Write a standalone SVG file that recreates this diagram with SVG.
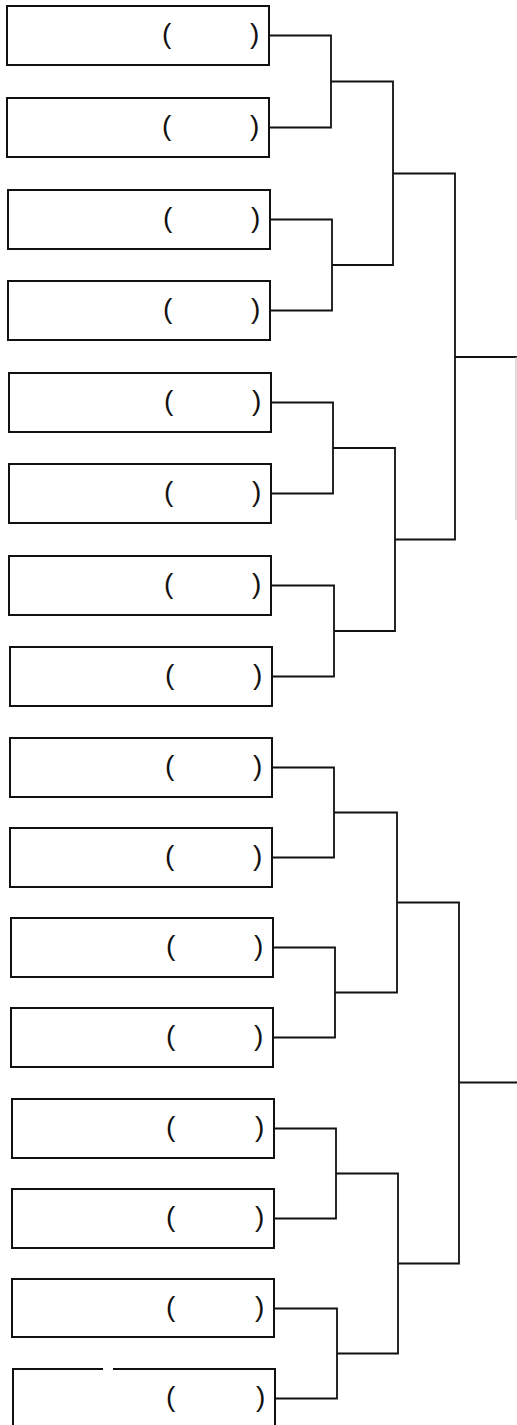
<svg xmlns="http://www.w3.org/2000/svg" width="517" height="1425" viewBox="0 0 517 1425">
<style>
.box{fill:#fff;stroke:#111;stroke-width:2}
.p{font-family:"Liberation Sans",Arial,sans-serif;font-size:28px;fill:#111}
.c{fill:none;stroke:#111;stroke-width:1.8}
</style>
<rect width="517" height="1425" fill="#fff"/>
<g id="connectors">
<path class="c" d="M269 35.5H331V127.5H269"/>
<path class="c" d="M270 219.5H332V310.5H270"/>
<path class="c" d="M271 402.5H333V493.5H271"/>
<path class="c" d="M271 585.5H334V676.5H272"/>
<path class="c" d="M272 767.5H334V857.5H272"/>
<path class="c" d="M273 947.5H335V1037.5H273"/>
<path class="c" d="M274 1128.5H336V1218.5H274"/>
<path class="c" d="M274 1308.5H337V1398.5H275"/>
<path class="c" d="M331 81.5H393V265H332"/>
<path class="c" d="M333 448H395V631H334"/>
<path class="c" d="M334 812.5H397V992.5H335"/>
<path class="c" d="M336 1173.5H398V1353.5H337"/>
<path class="c" d="M393 173.5H455V539.5H395"/>
<path class="c" d="M397 902.5H459V1263.5H398"/>
<path class="c" d="M455 357H517"/>
<path class="c" d="M459 1082.5H517"/>
<path d="M516 357V520" stroke="#bbb" stroke-width="1" fill="none"/>
</g>
<g id="n1"><rect class="box" x="7" y="6" width="262" height="59"/><text class="p" x="162" y="43">(</text><text class="p" x="250" y="43">)</text></g>
<g id="n2"><rect class="box" x="7" y="98" width="262" height="59"/><text class="p" x="162" y="135">(</text><text class="p" x="250" y="135">)</text></g>
<g id="n3"><rect class="box" x="8" y="190" width="262" height="59"/><text class="p" x="163" y="227">(</text><text class="p" x="251" y="227">)</text></g>
<g id="n4"><rect class="box" x="8" y="281" width="262" height="59"/><text class="p" x="163" y="318">(</text><text class="p" x="251" y="318">)</text></g>
<g id="n5"><rect class="box" x="9" y="373" width="262" height="59"/><text class="p" x="164" y="410">(</text><text class="p" x="252" y="410">)</text></g>
<g id="n6"><rect class="box" x="9" y="464" width="262" height="59"/><text class="p" x="164" y="501">(</text><text class="p" x="252" y="501">)</text></g>
<g id="n7"><rect class="box" x="9" y="556" width="262" height="59"/><text class="p" x="164" y="593">(</text><text class="p" x="252" y="593">)</text></g>
<g id="n8"><rect class="box" x="10" y="647" width="262" height="59"/><text class="p" x="165" y="684">(</text><text class="p" x="253" y="684">)</text></g>
<g id="n9"><rect class="box" x="10" y="738" width="262" height="59"/><text class="p" x="165" y="775">(</text><text class="p" x="253" y="775">)</text></g>
<g id="n10"><rect class="box" x="10" y="828" width="262" height="59"/><text class="p" x="165" y="865">(</text><text class="p" x="253" y="865">)</text></g>
<g id="n11"><rect class="box" x="11" y="918" width="262" height="59"/><text class="p" x="166" y="955">(</text><text class="p" x="254" y="955">)</text></g>
<g id="n12"><rect class="box" x="11" y="1008" width="262" height="59"/><text class="p" x="166" y="1045">(</text><text class="p" x="254" y="1045">)</text></g>
<g id="n13"><rect class="box" x="12" y="1099" width="262" height="59"/><text class="p" x="166" y="1136">(</text><text class="p" x="255" y="1136">)</text></g>
<g id="n14"><rect class="box" x="12" y="1189" width="262" height="59"/><text class="p" x="166" y="1226">(</text><text class="p" x="255" y="1226">)</text></g>
<g id="n15"><rect class="box" x="12" y="1279" width="262" height="58"/><text class="p" x="166" y="1316">(</text><text class="p" x="255" y="1316">)</text></g>
<g id="n16"><rect x="13" y="1369" width="262" height="59" fill="#fff"/><path class="box" fill="none" d="M103 1369H13V1428M113 1369H275V1428"/><text class="p" x="166" y="1406">(</text><text class="p" x="256" y="1406">)</text></g>
</svg>
